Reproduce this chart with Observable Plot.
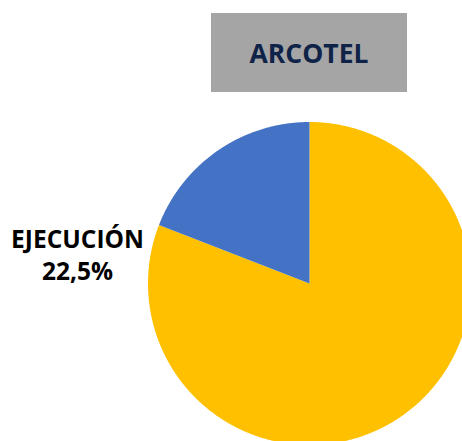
<!DOCTYPE html>
<html>
<head>
<meta charset="utf-8">
<script src="https://cdn.jsdelivr.net/npm/d3@7"></script>
<script src="https://cdn.jsdelivr.net/npm/@observablehq/plot@0.6"></script>
<style>
  html, body { margin: 0; padding: 0; background: #fff; overflow: hidden; }
  #wrap { position: relative; width: 462px; height: 441px; }
  #title {
    position: absolute; left: 211px; top: 13px; width: 196px; height: 79px;
    background: #A5A5A5; color: #0E2347;
    font-family: "Open Sans", sans-serif; font-weight: 700; font-size: 26.5px;
    display: flex; align-items: center; justify-content: center;
  }
  #wrap svg { position: absolute; left: 0; top: 0; }
</style>
</head>
<body>
<div id="wrap"><div id="title">ARCOTEL</div></div>
<script>
// Data
const categories = ["POR EJECUTAR", "EJECUCIÓN"];
const values = [80.9, 19.1];
const colors = ["#FFC000", "#4472C4"];
const labelName = "EJECUCIÓN";
const labelPct = "22,5%";

// Build slice polygons from the pie layout
const pie = d3.pie().sort(null).value(d => d.value);
const arcs = pie(categories.map((c, i) => ({name: c, value: values[i]})));
const pts = [];
for (const a of arcs) {
  pts.push({name: a.data.name, x: 0, y: 0});
  const n = Math.max(2, Math.ceil((a.endAngle - a.startAngle) / 0.005));
  for (let k = 0; k <= n; k++) {
    const t = a.startAngle + (a.endAngle - a.startAngle) * k / n;
    pts.push({name: a.data.name, x: Math.sin(t), y: Math.cos(t)});
  }
  pts.push({name: a.data.name, x: 0, y: 0});
}

const cx = 309, cy = 283, r = 161.5;
const labelStyle = {
  frameAnchor: "top-left",
  dx: 77,
  fill: "#000",
  fontSize: 24.5,
  fontWeight: 700,
  textAnchor: "middle",
  lineAnchor: "bottom"
};
const chart = Plot.plot({
  width: 462,
  height: 441,
  margin: 0,
  x: {domain: [-1, 1], range: [cx - r, cx + r], axis: null},
  y: {domain: [-1, 1], range: [cy + r, cy - r], axis: null},
  color: {domain: categories, range: colors},
  style: {fontFamily: "'Open Sans', sans-serif", background: "transparent"},
  marks: [
    Plot.line(pts, {x: "x", y: "y", z: "name", fill: "name", stroke: null, curve: "linear", clip: true}),
    Plot.text([labelName], {...labelStyle, text: d => d, dy: 247}),
    Plot.text([labelPct], {...labelStyle, text: d => d, dy: 279})
  ]
});
document.getElementById("wrap").appendChild(chart);
</script>
</body>
</html>
